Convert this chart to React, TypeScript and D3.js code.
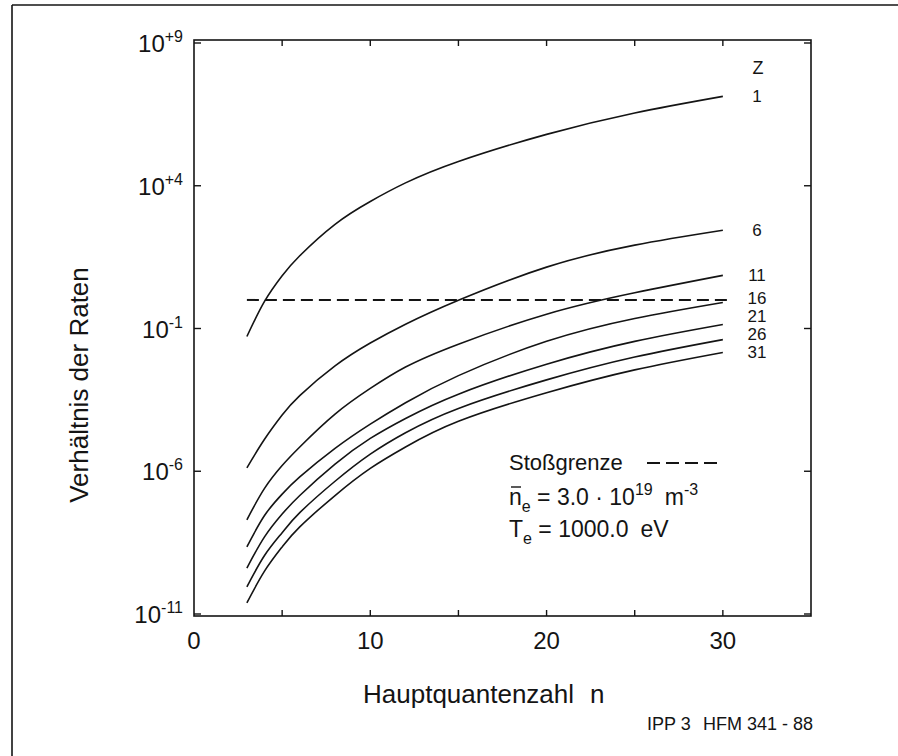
import React from "react";
import * as d3 from "d3";

const W = 898;
const H = 756;

// Hauptquantenzahl n at which the curves are sampled
const nValues = [3, 4, 5, 6, 8, 10, 12, 15, 20, 25, 30];

// Kernladungszahl Z of each curve
const zValues = [1, 6, 11, 16, 21, 26, 31];

// log10(Verhältnis der Raten) per Z, at the n values above
const logRatioZ1 = [-1.28, -0.05, 0.85, 1.55, 2.65, 3.45, 4.1, 4.85, 5.8, 6.55, 7.13];
const logRatioZ6 = [-5.88, -4.88, -4.03, -3.35, -2.31, -1.51, -0.85, -0.01, 1.15, 1.92, 2.44];
const logRatioZ11 = [-7.7, -6.6, -5.8, -5.15, -4.0, -3.1, -2.35, -1.55, -0.5, 0.25, 0.86];
const logRatioZ16 = [-8.65, -7.55, -6.8, -6.2, -5.2, -4.35, -3.6, -2.65, -1.45, -0.65, -0.09];
const logRatioZ21 = [-9.39, -8.3, -7.5, -6.85, -5.75, -4.85, -4.15, -3.3, -2.25, -1.45, -0.86];
const logRatioZ26 = [-10.05, -8.95, -8.15, -7.45, -6.35, -5.4, -4.65, -3.8, -2.8, -2.0, -1.39];
const logRatioZ31 = [-10.61, -9.5, -8.65, -7.95, -6.85, -5.9, -5.15, -4.25, -3.25, -2.45, -1.84];

const seriesLogs = [logRatioZ1, logRatioZ6, logRatioZ11, logRatioZ16, logRatioZ21, logRatioZ26, logRatioZ31];

// Stoßgrenze: ratio of collisional to radiative rates equals one
const collisionLimit = 1;
const collisionLimitN = [3, 30.5];

const xTickLabels = [0, 10, 20, 30];
const xTickMarks = [5, 10, 15, 20, 25, 30];
const yTickExponents = [9, 4, -1, -6, -11];

const FONT = "'Liberation Sans', Arial, Helvetica, sans-serif";
const INK = "#141414";

export default function App() {
  const left = 194;
  const right = 811;
  const top = 40;
  const bottom = 616;

  const x = d3.scaleLinear().domain([0, 35]).range([left, right]);
  const y = d3.scaleLog().domain([1e-11, 1e9]).range([614, 43]);

  const line = d3
    .line<[number, number]>()
    .x((d) => x(d[0]))
    .y((d) => y(Math.pow(10, d[1])))
    .curve(d3.curveNatural);

  // curve end positions, then labels spread to keep them readable
  const endY = seriesLogs.map((s) => y(Math.pow(10, s[s.length - 1])));
  const labelY = endY.slice();
  for (let i = labelY.length - 2; i >= 0; i--) {
    labelY[i] = Math.min(labelY[i], labelY[i + 1] - 18);
  }

  const supText = (e: number) => (e > 0 ? `+${e}` : `-${Math.abs(e)}`);

  return (
    <svg width={W} height={H} viewBox={`0 0 ${W} ${H}`} style={{ display: "block", position: "absolute", left: 0, top: 0, background: "#fff" }} fontFamily={FONT}>
      <rect x={0} y={0} width={W} height={H} fill="#fff" />

      {/* page frame */}
      <line x1={12} y1={5} x2={W} y2={5} stroke={INK} strokeWidth={1.6} />
      <line x1={12} y1={5} x2={12} y2={H} stroke={INK} strokeWidth={1.6} />

      {/* plot box */}
      <rect x={left} y={top} width={right - left} height={bottom - top} fill="none" stroke={INK} strokeWidth={1.6} />

      {/* y ticks, both sides, inward */}
      {yTickExponents.map((e) => {
        const yy = y(Math.pow(10, e));
        return (
          <g key={`yt${e}`}>
            <line x1={left} x2={left + 7} y1={yy} y2={yy} stroke={INK} strokeWidth={1.4} />
            <line x1={right} x2={right - 7} y1={yy} y2={yy} stroke={INK} strokeWidth={1.4} />
            <text x={183} y={yy + 9} textAnchor="end" fontSize={24} fill={INK}>
              10
              <tspan dy={-10} fontSize={16}>{supText(e)}</tspan>
            </text>
          </g>
        );
      })}

      {/* x ticks, top and bottom, inward */}
      {xTickMarks.map((v) => (
        <g key={`xt${v}`}>
          <line x1={x(v)} x2={x(v)} y1={bottom} y2={bottom - 6} stroke={INK} strokeWidth={1.4} />
          <line x1={x(v)} x2={x(v)} y1={top} y2={top + 6} stroke={INK} strokeWidth={1.4} />
        </g>
      ))}
      {xTickLabels.map((v) => (
        <text key={`xl${v}`} x={x(v)} y={649} textAnchor="middle" fontSize={24} fill={INK}>
          {v}
        </text>
      ))}

      {/* axis titles */}
      <text x={363} y={703} fontSize={26} fill={INK}>
        Hauptquantenzahl
        <tspan dx={16}>n</tspan>
      </text>
      <text transform={`translate(88,385) rotate(-90)`} textAnchor="middle" fontSize={26} fill={INK}>
        Verhältnis der Raten
      </text>

      {/* Stoßgrenze */}
      <line
        x1={x(collisionLimitN[0])}
        x2={x(collisionLimitN[1])}
        y1={y(collisionLimit)}
        y2={y(collisionLimit)}
        stroke={INK}
        strokeWidth={2}
        strokeDasharray="12 6"
      />

      {/* curves for each Z */}
      {seriesLogs.map((s, i) => (
        <path
          key={`c${zValues[i]}`}
          d={line(nValues.map((n, j) => [n, s[j]] as [number, number])) || ""}
          fill="none"
          stroke={INK}
          strokeWidth={1.6}
        />
      ))}

      {/* curve labels */}
      <text x={758} y={68} textAnchor="middle" dominantBaseline="central" fontSize={18} fill={INK}>
        Z
      </text>
      {zValues.map((z, i) => (
        <text key={`zl${z}`} x={757} y={labelY[i]} textAnchor="middle" dominantBaseline="central" fontSize={17} fill={INK}>
          {z}
        </text>
      ))}

      {/* legend and plasma parameters */}
      <text x={509} y={470} fontSize={22} fill={INK}>
        Stoßgrenze
      </text>
      <line x1={647} x2={717} y1={463} y2={463} stroke={INK} strokeWidth={2} strokeDasharray="13 6" />

      <line x1={511} x2={521} y1={487} y2={487} stroke={INK} strokeWidth={1.4} />
      <text x={509} y={505} fontSize={23} fill={INK}>
        n
        <tspan dy={7} fontSize={16}>e</tspan>
        <tspan dy={-7}> = 3.0 · 10</tspan>
        <tspan dy={-10} fontSize={16}>19</tspan>
        <tspan dy={10} dx={12}>m</tspan>
        <tspan dy={-10} fontSize={16}>-3</tspan>
      </text>

      <text x={509} y={537} fontSize={23} fill={INK}>
        T
        <tspan dy={7} fontSize={16}>e</tspan>
        <tspan dy={-7}> = 1000.0</tspan>
        <tspan dx={12}>eV</tspan>
      </text>

      {/* figure reference */}
      <text x={647} y={730} fontSize={18} fill={INK}>
        IPP 3
      </text>
      <text x={703} y={730} fontSize={18} fill={INK}>
        HFM 341 - 88
      </text>
    </svg>
  );
}
